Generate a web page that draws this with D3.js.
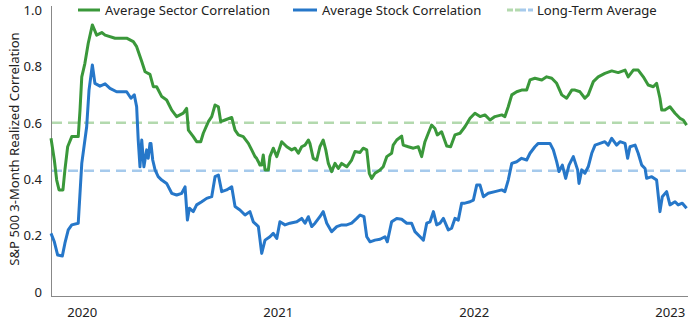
<!DOCTYPE html>
<html><head><meta charset="utf-8">
<script src="https://cdn.jsdelivr.net/npm/d3@7"></script>
<style>body{margin:0;background:#fff}svg text{font-family:"Noto Sans",sans-serif;fill:#222}</style>
</head><body><svg id="c" width="690" height="321"></svg>
<script>
// decimal-year dates and values
const sectorT = [2019.840,2019.857,2019.869,2019.881,2019.901,2019.911,2019.925,2019.946,2019.979,2019.988,2019.997,2020.013,2020.030,2020.051,2020.073,2020.099,2020.116,2020.167,2020.226,2020.260,2020.277,2020.303,2020.320,2020.345,2020.362,2020.379,2020.405,2020.430,2020.456,2020.481,2020.515,2020.532,2020.541,2020.566,2020.583,2020.604,2020.617,2020.643,2020.660,2020.677,2020.694,2020.706,2020.728,2020.762,2020.779,2020.796,2020.821,2020.847,2020.864,2020.881,2020.889,2020.898,2020.906,2020.915,2020.923,2020.932,2020.949,2020.957,2020.974,2020.992,2021.017,2021.043,2021.068,2021.085,2021.102,2021.119,2021.136,2021.153,2021.161,2021.178,2021.196,2021.212,2021.229,2021.242,2021.255,2021.272,2021.289,2021.306,2021.323,2021.349,2021.374,2021.391,2021.417,2021.433,2021.451,2021.464,2021.476,2021.493,2021.519,2021.535,2021.553,2021.578,2021.586,2021.604,2021.629,2021.637,2021.663,2021.689,2021.714,2021.731,2021.748,2021.765,2021.782,2021.799,2021.811,2021.833,2021.859,2021.879,2021.901,2021.927,2021.952,2021.978,2022.003,2022.029,2022.054,2022.080,2022.105,2022.140,2022.156,2022.173,2022.191,2022.216,2022.241,2022.267,2022.284,2022.309,2022.344,2022.369,2022.395,2022.420,2022.446,2022.471,2022.497,2022.514,2022.539,2022.564,2022.581,2022.607,2022.632,2022.666,2022.701,2022.734,2022.769,2022.785,2022.811,2022.836,2022.862,2022.887,2022.913,2022.930,2022.947,2022.956,2022.972,2022.998,2023.024,2023.049,2023.066,2023.083];
const sectorV = [0.545,0.468,0.397,0.362,0.362,0.433,0.515,0.551,0.551,0.645,0.763,0.811,0.882,0.947,0.911,0.920,0.911,0.900,0.900,0.888,0.870,0.817,0.781,0.772,0.728,0.728,0.693,0.681,0.645,0.622,0.634,0.651,0.574,0.551,0.533,0.533,0.563,0.604,0.622,0.663,0.657,0.604,0.610,0.619,0.574,0.557,0.551,0.527,0.504,0.480,0.474,0.462,0.450,0.450,0.486,0.433,0.433,0.480,0.510,0.480,0.533,0.515,0.504,0.510,0.492,0.515,0.521,0.539,0.527,0.474,0.468,0.515,0.539,0.504,0.456,0.427,0.456,0.438,0.456,0.444,0.468,0.498,0.495,0.510,0.504,0.421,0.403,0.421,0.433,0.444,0.480,0.492,0.521,0.539,0.553,0.521,0.515,0.510,0.515,0.480,0.533,0.563,0.592,0.580,0.557,0.568,0.518,0.515,0.557,0.563,0.586,0.616,0.634,0.622,0.628,0.610,0.622,0.628,0.622,0.657,0.699,0.710,0.716,0.716,0.752,0.758,0.752,0.763,0.758,0.740,0.699,0.687,0.716,0.716,0.710,0.687,0.699,0.746,0.763,0.775,0.784,0.778,0.787,0.763,0.787,0.787,0.763,0.734,0.728,0.740,0.687,0.645,0.645,0.657,0.634,0.616,0.610,0.592];
const stockT = [2019.840,2019.857,2019.874,2019.898,2019.911,2019.928,2019.946,2019.979,2019.997,2020.022,2020.034,2020.051,2020.064,2020.090,2020.116,2020.141,2020.175,2020.226,2020.248,2020.265,2020.277,2020.285,2020.294,2020.303,2020.314,2020.328,2020.336,2020.345,2020.350,2020.359,2020.371,2020.387,2020.405,2020.430,2020.456,2020.481,2020.507,2020.524,2020.536,2020.546,2020.566,2020.583,2020.609,2020.634,2020.660,2020.677,2020.694,2020.711,2020.736,2020.762,2020.779,2020.804,2020.830,2020.855,2020.872,2020.889,2020.898,2020.915,2020.932,2020.957,2020.974,2020.992,2021.008,2021.034,2021.059,2021.094,2021.119,2021.136,2021.153,2021.170,2021.187,2021.212,2021.229,2021.247,2021.272,2021.298,2021.323,2021.349,2021.374,2021.400,2021.417,2021.437,2021.451,2021.468,2021.493,2021.519,2021.544,2021.556,2021.578,2021.604,2021.629,2021.655,2021.680,2021.697,2021.723,2021.740,2021.757,2021.774,2021.791,2021.808,2021.825,2021.842,2021.867,2021.884,2021.901,2021.918,2021.935,2021.952,2021.978,2021.995,2022.012,2022.029,2022.046,2022.071,2022.105,2022.140,2022.156,2022.173,2022.191,2022.216,2022.241,2022.267,2022.284,2022.309,2022.326,2022.352,2022.386,2022.403,2022.420,2022.432,2022.449,2022.466,2022.483,2022.505,2022.527,2022.534,2022.548,2022.564,2022.581,2022.599,2022.616,2022.641,2022.666,2022.683,2022.701,2022.726,2022.743,2022.769,2022.782,2022.794,2022.820,2022.836,2022.854,2022.871,2022.879,2022.905,2022.930,2022.947,2022.959,2022.981,2022.998,2023.024,2023.040,2023.061,2023.083];
const stockV = [0.208,0.178,0.131,0.128,0.173,0.220,0.238,0.244,0.456,0.586,0.716,0.805,0.740,0.730,0.738,0.722,0.710,0.710,0.687,0.699,0.657,0.539,0.444,0.539,0.444,0.504,0.474,0.527,0.527,0.468,0.433,0.409,0.397,0.385,0.350,0.344,0.350,0.373,0.255,0.297,0.285,0.309,0.320,0.332,0.338,0.409,0.415,0.356,0.362,0.373,0.303,0.291,0.273,0.285,0.249,0.238,0.232,0.137,0.184,0.196,0.208,0.190,0.249,0.238,0.244,0.249,0.261,0.244,0.267,0.232,0.244,0.267,0.285,0.244,0.214,0.232,0.238,0.238,0.244,0.261,0.273,0.267,0.196,0.178,0.184,0.187,0.196,0.178,0.249,0.261,0.258,0.244,0.244,0.214,0.196,0.184,0.244,0.249,0.285,0.238,0.244,0.261,0.220,0.226,0.261,0.255,0.315,0.315,0.320,0.326,0.379,0.379,0.338,0.350,0.356,0.362,0.356,0.397,0.456,0.462,0.474,0.468,0.492,0.515,0.527,0.527,0.527,0.504,0.462,0.427,0.450,0.403,0.450,0.480,0.433,0.385,0.433,0.421,0.444,0.492,0.521,0.527,0.533,0.521,0.545,0.521,0.533,0.527,0.474,0.515,0.521,0.492,0.450,0.438,0.403,0.409,0.397,0.285,0.338,0.356,0.309,0.320,0.309,0.315,0.297];
const sectorAvg = 0.60;
const stockAvg = 0.43;
const yTicks = [0, 0.2, 0.4, 0.6, 0.8, 1.0];
const yTickLabels = ["0", "0.2", "0.4", "0.6", "0.8", "1.0"];
const xTicks = [2020, 2021, 2022, 2023];
const seriesNames = ["Average Sector Correlation", "Average Stock Correlation", "Long-Term Average"];
const yTitle = "S&P 500 3-Month Realized Correlation";

const green = "#3a983a", blue = "#2677c9", lgreen = "#b3d9ae", lblue = "#a6caec";
const FS = 13.1;
const svg = d3.select("#c");
const x = d3.scaleLinear().domain([2019.84, 2023.085]).range([51, 687]);
const y = d3.scaleLinear().domain([0, 1]).range([292, 10]);

// axes lines
svg.append("line").attr("x1",51.5).attr("x2",51.5).attr("y1",6).attr("y2",296).attr("stroke","#888").attr("stroke-width",1);
svg.append("line").attr("x1",51).attr("x2",688).attr("y1",296.5).attr("y2",296.5).attr("stroke","#888").attr("stroke-width",1);

// y ticks
svg.selectAll(".yt").data(yTicks).join("text").attr("class","yt")
  .attr("x",42).attr("y",d=>y(d)).attr("dy","0.36em").attr("text-anchor","end")
  .attr("font-size",FS).text((d,i)=>yTickLabels[i]);
// x ticks
svg.selectAll(".xt").data(xTicks).join("text").attr("class","xt")
  .attr("x",d=>x(d)).attr("y",312).attr("dy","0.36em").attr("text-anchor","middle")
  .attr("font-size",FS).text(d=>d);
// y title
svg.append("text").attr("transform","translate(14,149) rotate(-90)").attr("text-anchor","middle")
  .attr("dy","0.36em").attr("font-size",FS).text(yTitle);

// long-term averages
svg.append("line").attr("x1",52).attr("x2",687).attr("y1",y(sectorAvg)).attr("y2",y(sectorAvg))
  .attr("stroke",lgreen).attr("stroke-width",2.5).attr("stroke-dasharray","10,6");
svg.append("line").attr("x1",52).attr("x2",687).attr("y1",y(stockAvg)).attr("y2",y(stockAvg))
  .attr("stroke",lblue).attr("stroke-width",2.5).attr("stroke-dasharray","10,6");

const line = d3.line().x(d=>x(d[0])).y(d=>y(d[1]));
svg.append("path").datum(stockT.map((t,i)=>[t,stockV[i]])).attr("d",line)
  .attr("fill","none").attr("stroke",blue).attr("stroke-width",3).attr("stroke-linejoin","round");
svg.append("path").datum(sectorT.map((t,i)=>[t,sectorV[i]])).attr("d",line)
  .attr("fill","none").attr("stroke",green).attr("stroke-width",3).attr("stroke-linejoin","round");

// legend
const lg = svg.append("g");
lg.append("line").attr("x1",78).attr("x2",100).attr("y1",10).attr("y2",10).attr("stroke",green).attr("stroke-width",3);
lg.append("text").attr("x",105).attr("y",10).attr("dy","0.36em").attr("font-size",FS).text(seriesNames[0]);
lg.append("line").attr("x1",293).attr("x2",317).attr("y1",10).attr("y2",10).attr("stroke",blue).attr("stroke-width",3);
lg.append("text").attr("x",322).attr("y",10).attr("dy","0.36em").attr("font-size",FS).text(seriesNames[1]);
lg.append("line").attr("x1",507).attr("x2",520).attr("y1",10).attr("y2",10).attr("stroke",lgreen).attr("stroke-width",3).attr("stroke-dasharray","6,2");
lg.append("line").attr("x1",520).attr("x2",533).attr("y1",10).attr("y2",10).attr("stroke",lblue).attr("stroke-width",3).attr("stroke-dasharray","6,2");
lg.append("text").attr("x",537).attr("y",10).attr("dy","0.36em").attr("font-size",FS).text(seriesNames[2]);
</script></body></html>
